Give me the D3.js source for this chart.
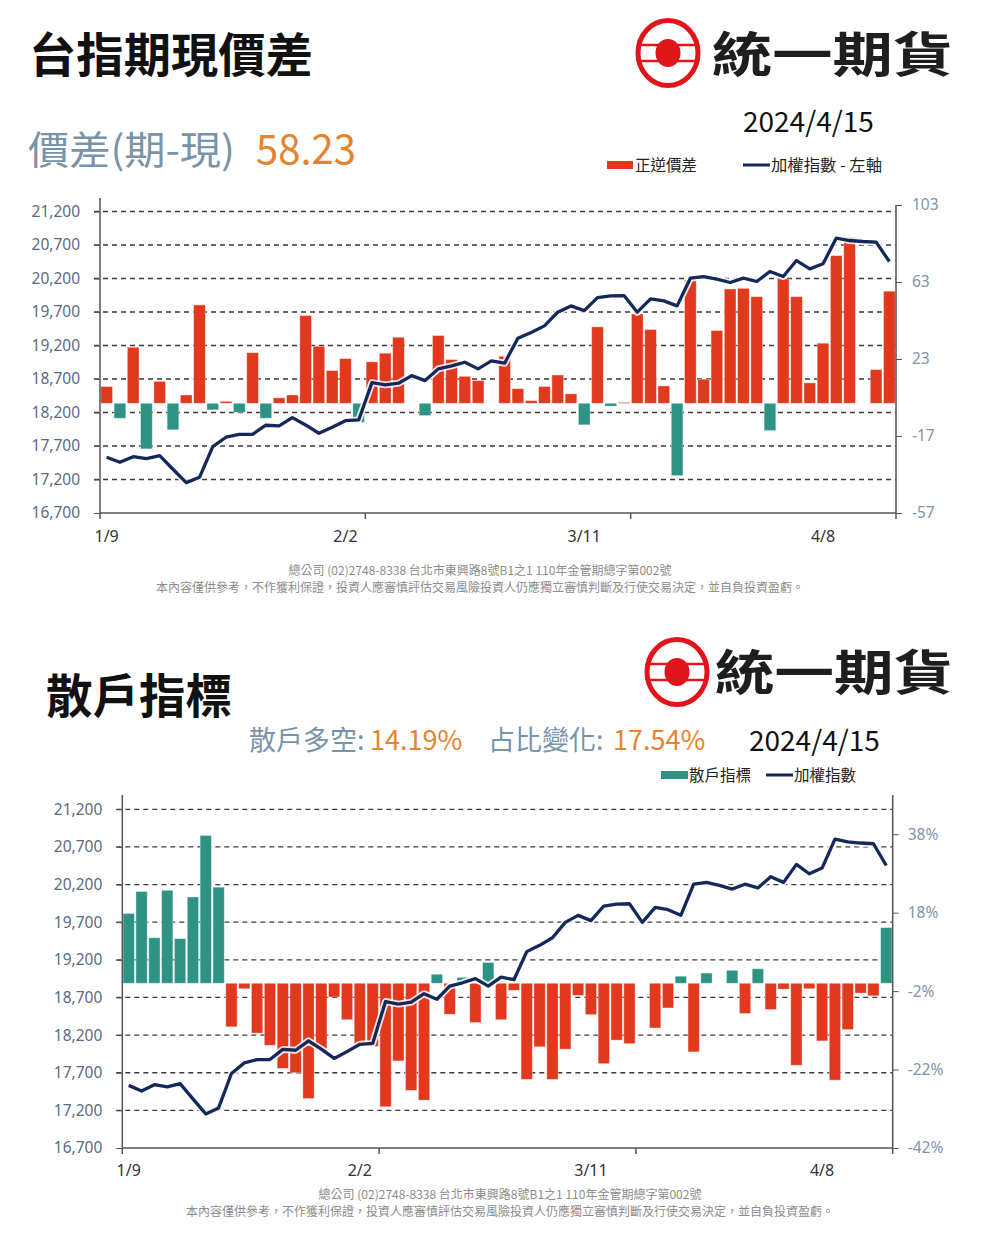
<!DOCTYPE html>
<html>
<head>
<meta charset="utf-8">
<script src="https://cdn.jsdelivr.net/npm/d3@7"></script>
<style>
  body { margin: 0; background: #fff; }
  svg { display: block; font-family: "Noto Sans CJK TC", "Noto Sans", sans-serif; }
</style>
</head>
<body>
<script>
// trading days 1/9 - 4/15 (2024)
const dates = ["1/9","1/10","1/11","1/12","1/15","1/16","1/17","1/18","1/19","1/22","1/23","1/24","1/25","1/26","1/29","1/30","1/31",
  "2/1","2/2","2/5","2/15","2/16","2/19","2/20","2/21","2/22","2/23","2/26","2/27","2/29",
  "3/1","3/4","3/5","3/6","3/7","3/8","3/11","3/12","3/13","3/14","3/15","3/18","3/19","3/20","3/21","3/22","3/25","3/26","3/27","3/28","3/29",
  "4/1","4/2","4/3","4/8","4/9","4/10","4/11","4/12","4/15"];

// 加權指數
const taiex = [17532,17457,17541,17511,17556,17353,17153,17233,17690,17831,17875,17875,18010,17999,18123,18014,17890,17980,18078,18089,
  18646,18612,18637,18750,18676,18851,18895,18950,18851,18970,18936,19309,19393,19493,19697,19791,19721,19915,19941,19945,
  19697,19896,19866,19791,20205,20229,20190,20140,20205,20155,20304,20229,20468,20344,20419,20803,20767,20752,20742,20453];

// 正逆價差 (期-現)
const basis = [8.7,-7.8,29.1,-23.7,11.4,-13.8,4.3,51.1,-3.4,1.0,-4.7,26.3,-7.8,2.8,4.3,45.6,29.6,17.0,23.2,-9.9,
  21.5,26.0,34.3,0,-6.4,35.2,22.7,14.0,11.8,0,24.4,7.6,1.4,8.7,14.7,4.9,-11.2,39.7,-1.5,0.5,
  46.4,38.3,9.0,-37.6,64.1,12.5,37.8,59.4,59.7,55.4,-14.2,64.6,55.4,10.6,31.2,76.7,86.2,0,17.5,58.23];

// 散戶指標 (%)
const retail = [17.8,23.4,11.6,23.7,11.4,22.0,37.7,24.5,-11.1,-1.4,-12.7,-15.8,-21.7,-22.8,-29.4,-17.1,-3.5,-9.3,-15.4,-16.1,
  -31.5,-19.8,-27.3,-29.8,2.3,-7.9,1.5,-10.0,5.3,-9.3,-1.8,-24.5,-16.2,-24.5,-16.8,-3.1,-8.0,-20.5,-14.5,-15.4,
  0,-11.4,-6.3,1.8,-17.5,2.6,0,3.3,-7.7,3.7,-6.7,-1.5,-20.9,-1.4,-14.7,-24.7,-11.8,-2.5,-3.2,14.19];

const indexTicks = [16700,17200,17700,18200,18700,19200,19700,20200,20700,21200];
const basisTicks = [-57,-17,23,63,103];
const retailTicks = [-42,-22,-2,18,38];
const labelIdx = [0,18,36,54];
const tickIdx = [0,20,40,60];

const RED = "#e2391e", TEAL = "#2e9384", NAVY = "#15285c";
const STEEL = "#7893aa", ORANGE = "#e6832c";

const svg = d3.select("body").append("svg")
  .attr("width", 983)
  .attr("height", 1238);

function logo(cx, cy, tx, ty, tw) {
  const g = svg.append("g");
  g.append("ellipse").attr("cx", cx).attr("cy", cy).attr("rx", 30).attr("ry", 32.5)
    .attr("fill", "none").attr("stroke", "#e2141b").attr("stroke-width", 5);
  [-8, 8].forEach(dy => g.append("line")
    .attr("x1", cx - 27).attr("x2", cx + 27).attr("y1", cy + dy).attr("y2", cy + dy)
    .attr("stroke", "#e2141b").attr("stroke-width", 2.5));
  g.append("ellipse").attr("cx", cx).attr("cy", cy).attr("rx", 12.5).attr("ry", 14)
    .attr("fill", "#e2141b");
  g.append("text").attr("x", tx).attr("y", ty)
    .attr("textLength", tw).attr("lengthAdjust", "spacingAndGlyphs")
    .style("font-size", "48px").style("font-weight", 700).attr("fill", "#1e1e1e")
    .text("統一期貨");
}

function panel(o) {
  const g = svg.append("g");
  const x = d3.scaleBand().domain(dates).range([o.x0, o.x1]).paddingInner(0.12).paddingOuter(0.06);
  const step = x.step();
  const yL = d3.scaleLinear().domain([16700, 21200]).range([o.yBot, o.yGrid]);
  const yR = d3.scaleLinear().domain(o.rDomain).range([o.yBot, o.rTop]);

  // grid
  g.append("g").selectAll("line")
    .data(indexTicks.slice(1))
    .join("line")
    .attr("x1", o.x0 - 6).attr("x2", o.x1)
    .attr("y1", d => yL(d)).attr("y2", d => yL(d))
    .attr("stroke", "#3a3a3a").attr("stroke-width", 1.3)
    .attr("stroke-dasharray", "5,4");

  // bars
  g.append("g").selectAll("rect")
    .data(o.values)
    .join("rect")
    .attr("x", (d, i) => x(dates[i]))
    .attr("width", x.bandwidth())
    .attr("y", d => yR(Math.max(d, 0)))
    .attr("height", d => Math.abs(yR(d) - yR(0)))
    .attr("fill", d => d >= 0 ? o.pos : o.neg)
    .attr("stroke", "#fff").attr("stroke-opacity", 0.45).attr("stroke-width", 0.8);

  // index line
  const line = d3.line()
    .x((d, i) => x(dates[i]) + x.bandwidth() / 2)
    .y(d => yL(d));
  g.append("path").datum(taiex).attr("d", line)
    .attr("fill", "none").attr("stroke", "#fff").attr("stroke-opacity", 0.85)
    .attr("stroke-width", 7).attr("stroke-linejoin", "round");
  g.append("path").datum(taiex).attr("d", line)
    .attr("fill", "none").attr("stroke", NAVY)
    .attr("stroke-width", 3.3).attr("stroke-linejoin", "round");

  // left axis
  const la = g.append("g").attr("transform", `translate(${o.x0},0)`)
    .call(d3.axisLeft(yL).tickValues(indexTicks).tickFormat(d3.format(",")).tickSize(6).tickPadding(14));
  la.select(".domain").remove();
  la.selectAll("line").attr("stroke", "#555");
  la.selectAll("text").attr("fill", "#5a6a84").style("font-size", "15.5px").style("font-family", "'Noto Sans', sans-serif");
  g.append("line").attr("x1", o.x0).attr("x2", o.x0).attr("y1", o.axTop).attr("y2", o.yBot)
    .attr("stroke", "#555").attr("stroke-width", 1.5);

  // right axis
  const ra = g.append("g").attr("transform", `translate(${o.x1},0)`)
    .call(d3.axisRight(yR).tickValues(o.rTicks).tickFormat(o.rFmt).tickSize(6).tickPadding(o.rPad));
  ra.select(".domain").remove();
  ra.selectAll("line").attr("stroke", "#555");
  ra.selectAll("text").attr("fill", "#7f93b0").style("font-size", "15.5px").style("font-family", "'Noto Sans', sans-serif");
  g.append("line").attr("x1", o.x1).attr("x2", o.x1).attr("y1", o.rTop).attr("y2", o.yBot)
    .attr("stroke", "#555").attr("stroke-width", 1.5);

  // bottom axis
  g.append("line").attr("x1", o.x0).attr("x2", o.x1).attr("y1", o.yBot).attr("y2", o.yBot)
    .attr("stroke", "#555").attr("stroke-width", 1.5);
  g.append("g").selectAll("line")
    .data(tickIdx)
    .join("line")
    .attr("x1", d => o.x0 + d * step).attr("x2", d => o.x0 + d * step)
    .attr("y1", o.yBot).attr("y2", o.yBot + 6)
    .attr("stroke", "#555").attr("stroke-width", 1.5);
  g.append("g").selectAll("text")
    .data(labelIdx)
    .join("text")
    .attr("x", d => x(dates[d]) + x.bandwidth() / 2)
    .attr("y", o.yBot + o.xLabDy)
    .attr("text-anchor", "middle")
    .attr("fill", "#333")
    .style("font-size", "16px").style("font-family", "'Noto Sans', sans-serif")
    .text(d => dates[d]);
}

function footer(cx, y) {
  svg.append("text").attr("x", cx).attr("y", y).attr("text-anchor", "middle")
    .attr("fill", "#8c8c8c").style("font-size", "12px")
    .text("總公司 (02)2748-8338 台北市東興路8號B1之1 110年金管期總字第002號");
  svg.append("text").attr("x", cx).attr("y", y + 17).attr("text-anchor", "middle")
    .attr("fill", "#8c8c8c").style("font-size", "12px")
    .text("本內容僅供參考，不作獲利保證，投資人應審慎評估交易風險投資人仍應獨立審慎判斷及行使交易決定，並自負投資盈虧。");
}

// ---------- top: 台指期現價差 ----------
svg.append("text").attr("x", 29).attr("y", 72)
  .attr("textLength", 284).attr("lengthAdjust", "spacingAndGlyphs")
  .style("font-size", "47px").style("font-weight", 700).attr("fill", "#111")
  .text("台指期現價差");
logo(668, 53, 712, 72, 241);

svg.append("text").attr("x", 28).attr("y", 164)
  .attr("textLength", 207).attr("lengthAdjust", "spacingAndGlyphs")
  .style("font-size", "39px").attr("fill", STEEL)
  .text("價差(期-現)");
svg.append("text").attr("x", 256).attr("y", 164)
  .style("font-size", "40px").attr("fill", ORANGE)
  .text(basis[basis.length - 1].toFixed(2));
svg.append("text").attr("x", 743).attr("y", 132)
  .style("font-size", "28px").attr("fill", "#111")
  .text("2024/4/15");

svg.append("rect").attr("x", 607).attr("y", 161).attr("width", 26).attr("height", 8).attr("fill", RED);
svg.append("text").attr("x", 635).attr("y", 171).style("font-size", "15.5px").attr("fill", "#222").text("正逆價差");
svg.append("line").attr("x1", 743).attr("x2", 770).attr("y1", 165).attr("y2", 165).attr("stroke", NAVY).attr("stroke-width", 3);
svg.append("text").attr("x", 771).attr("y", 171)
  .attr("textLength", 111).attr("lengthAdjust", "spacingAndGlyphs")
  .style("font-size", "15.5px").attr("fill", "#222").text("加權指數 - 左軸");

panel({
  x0: 100, x1: 896, yBot: 513, yGrid: 211.5, axTop: 198, rTop: 205,
  rDomain: [-57, 103], rTicks: basisTicks, rFmt: d => String(d), rPad: 10,
  values: basis, pos: RED, neg: TEAL, xLabDy: 29
});
footer(480, 575);

// ---------- bottom: 散戶指標 ----------
svg.append("text").attr("x", 46).attr("y", 713)
  .attr("textLength", 186).attr("lengthAdjust", "spacingAndGlyphs")
  .style("font-size", "47px").style("font-weight", 700).attr("fill", "#111")
  .text("散戶指標");
logo(677, 672, 715, 690, 238);

const stats = svg.append("text").attr("x", 249).attr("y", 750).style("font-size", "27px");
stats.append("tspan").attr("fill", STEEL).text("散戶多空: ");
stats.append("tspan").attr("x", 370).attr("fill", ORANGE).text(retail[retail.length - 1].toFixed(2) + "%");
stats.append("tspan").attr("x", 488).attr("fill", STEEL).text("占比變化: ");
stats.append("tspan").attr("x", 613).attr("fill", ORANGE).text("17.54%");
svg.append("text").attr("x", 749).attr("y", 751)
  .style("font-size", "28px").attr("fill", "#111")
  .text("2024/4/15");

svg.append("rect").attr("x", 661).attr("y", 771).attr("width", 27).attr("height", 8).attr("fill", TEAL);
svg.append("text").attr("x", 689).attr("y", 781).style("font-size", "15.5px").attr("fill", "#222").text("散戶指標");
svg.append("line").attr("x1", 766).attr("x2", 793).attr("y1", 775).attr("y2", 775).attr("stroke", NAVY).attr("stroke-width", 3);
svg.append("text").attr("x", 794).attr("y", 781).style("font-size", "15.5px").attr("fill", "#222").text("加權指數");

panel({
  x0: 122.3, x1: 892.7, yBot: 1148, yGrid: 809.3, axTop: 795, rTop: 795,
  rDomain: [-42, 48], rTicks: retailTicks, rFmt: d => d + "%", rPad: 9,
  values: retail, pos: TEAL, neg: RED, xLabDy: 28
});
footer(510, 1199);
</script>
</body>
</html>
